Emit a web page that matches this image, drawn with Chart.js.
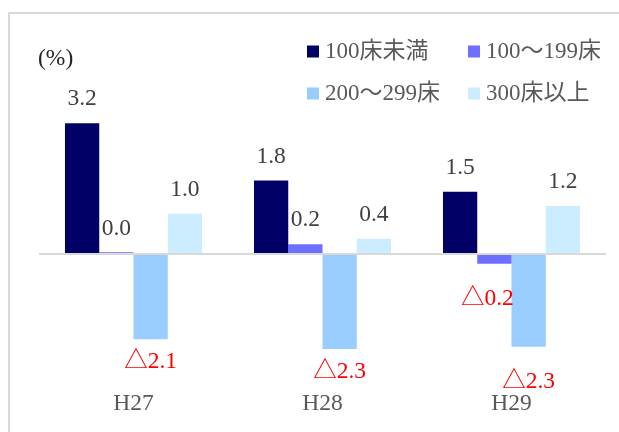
<!DOCTYPE html>
<html>
<head>
<meta charset="utf-8">
<script src="https://cdn.jsdelivr.net/npm/chart.js@4/dist/chart.umd.min.js"></script>
<style>
  html, body { margin: 0; padding: 0; background: #ffffff; overflow: hidden; }
  #wrap { position: relative; width: 619px; height: 432px; }
  #frame { position: absolute; left: 8px; top: 12px; width: 700px; height: 500px;
           border: 2px solid #d9d9d9; box-sizing: border-box; }
  canvas { position: absolute; left: 0; top: 0; }
</style>
</head>
<body>
<div id="wrap">
  <div id="frame"></div>
  <canvas id="c" width="619" height="432"></canvas>
</div>
<script>
// ---- data ----
const categories = ['H27', 'H28', 'H29'];
const seriesNames = ['100床未満', '100～199床', '200～299床', '300床以上'];
const under100 = [3.19, 1.79, 1.52];
const beds100to199 = [0.04, 0.24, -0.24];
const beds200to299 = [-2.08, -2.32, -2.26];
const beds300plus = [0.98, 0.37, 1.17];
const unitLabel = '(%)';

const seriesColors = ['#000066', '#6F6FFF', '#99CCFF', '#CCECFF'];
const FONT = '"Liberation Serif", "Times New Roman", "Noto Sans CJK JP", serif';

// manual nudges of a few data labels (dataset index, point index) -> [dx, dy]
const labelNudge = { '1,2': [-7, 12], '2,2': [0, 12] };

const decorPlugin = {
  id: 'decor',
  afterDatasetsDraw(chart) {
    const ctx = chart.ctx;
    const x = chart.scales.x, y = chart.scales.y;
    const area = chart.chartArea;
    ctx.save();
    // zero line
    const y0 = y.getPixelForValue(0);
    ctx.strokeStyle = '#d9d9d9';
    ctx.lineWidth = 2;
    ctx.beginPath();
    ctx.moveTo(area.left, y0);
    ctx.lineTo(area.right, y0);
    ctx.stroke();

    // data labels
    ctx.font = '23.5px ' + FONT;
    ctx.textAlign = 'center';
    ctx.textBaseline = 'middle';
    chart.data.datasets.forEach((ds, di) => {
      const meta = chart.getDatasetMeta(di);
      meta.data.forEach((bar, i) => {
        const v = ds.data[i];
        const txt = Math.abs(v).toFixed(1);
        const n = labelNudge[di + ',' + i] || [0, 0];
        if (txt !== '0.0' && v < 0) {
          ctx.fillStyle = '#FF0000';
          ctx.fillText('△' + txt, bar.x + n[0], bar.y + 23 + n[1]);
        } else {
          ctx.fillStyle = '#404040';
          ctx.fillText(txt, bar.x + n[0], bar.y - 24 + n[1]);
        }
      });
    });

    // category labels
    ctx.fillStyle = '#595959';
    categories.forEach((c, i) => {
      ctx.fillText(c, x.getPixelForValue(i), 404);
    });

    // unit label
    ctx.fillStyle = '#262626';
    ctx.textAlign = 'left';
    ctx.font = '23.5px ' + FONT;
    ctx.fillText(unitLabel, 38, 59);

    // legend (2 x 2)
    ctx.font = '23px ' + FONT;
    chart.data.datasets.forEach((ds, di) => {
      const col = di % 2, row = Math.floor(di / 2);
      const bx = 307 + col * 161;
      const cy = 51.5 + row * 42;
      ctx.fillStyle = ds.backgroundColor;
      ctx.fillRect(bx, cy - 6, 12, 12);
      ctx.fillStyle = '#595959';
      ctx.fillText(ds.label, bx + 18, cy + 0.5);
    });
    ctx.restore();
  }
};

const values = [under100, beds100to199, beds200to299, beds300plus];

new Chart(document.getElementById('c'), {
  type: 'bar',
  data: {
    labels: categories,
    datasets: values.map((d, i) => ({
      label: seriesNames[i],
      data: d,
      backgroundColor: seriesColors[i],
      borderWidth: 0,
      categoryPercentage: 0.725,
      barPercentage: 1.0
    }))
  },
  options: {
    responsive: false,
    animation: false,
    devicePixelRatio: 1,
    layout: { padding: { left: 39, right: 13, top: 90, bottom: 34.5 } },
    plugins: { legend: { display: false }, tooltip: { enabled: false } },
    scales: {
      x: { display: false },
      y: { display: false, min: -3.5, max: 4 }
    }
  },
  plugins: [decorPlugin]
});
</script>
</body>
</html>
